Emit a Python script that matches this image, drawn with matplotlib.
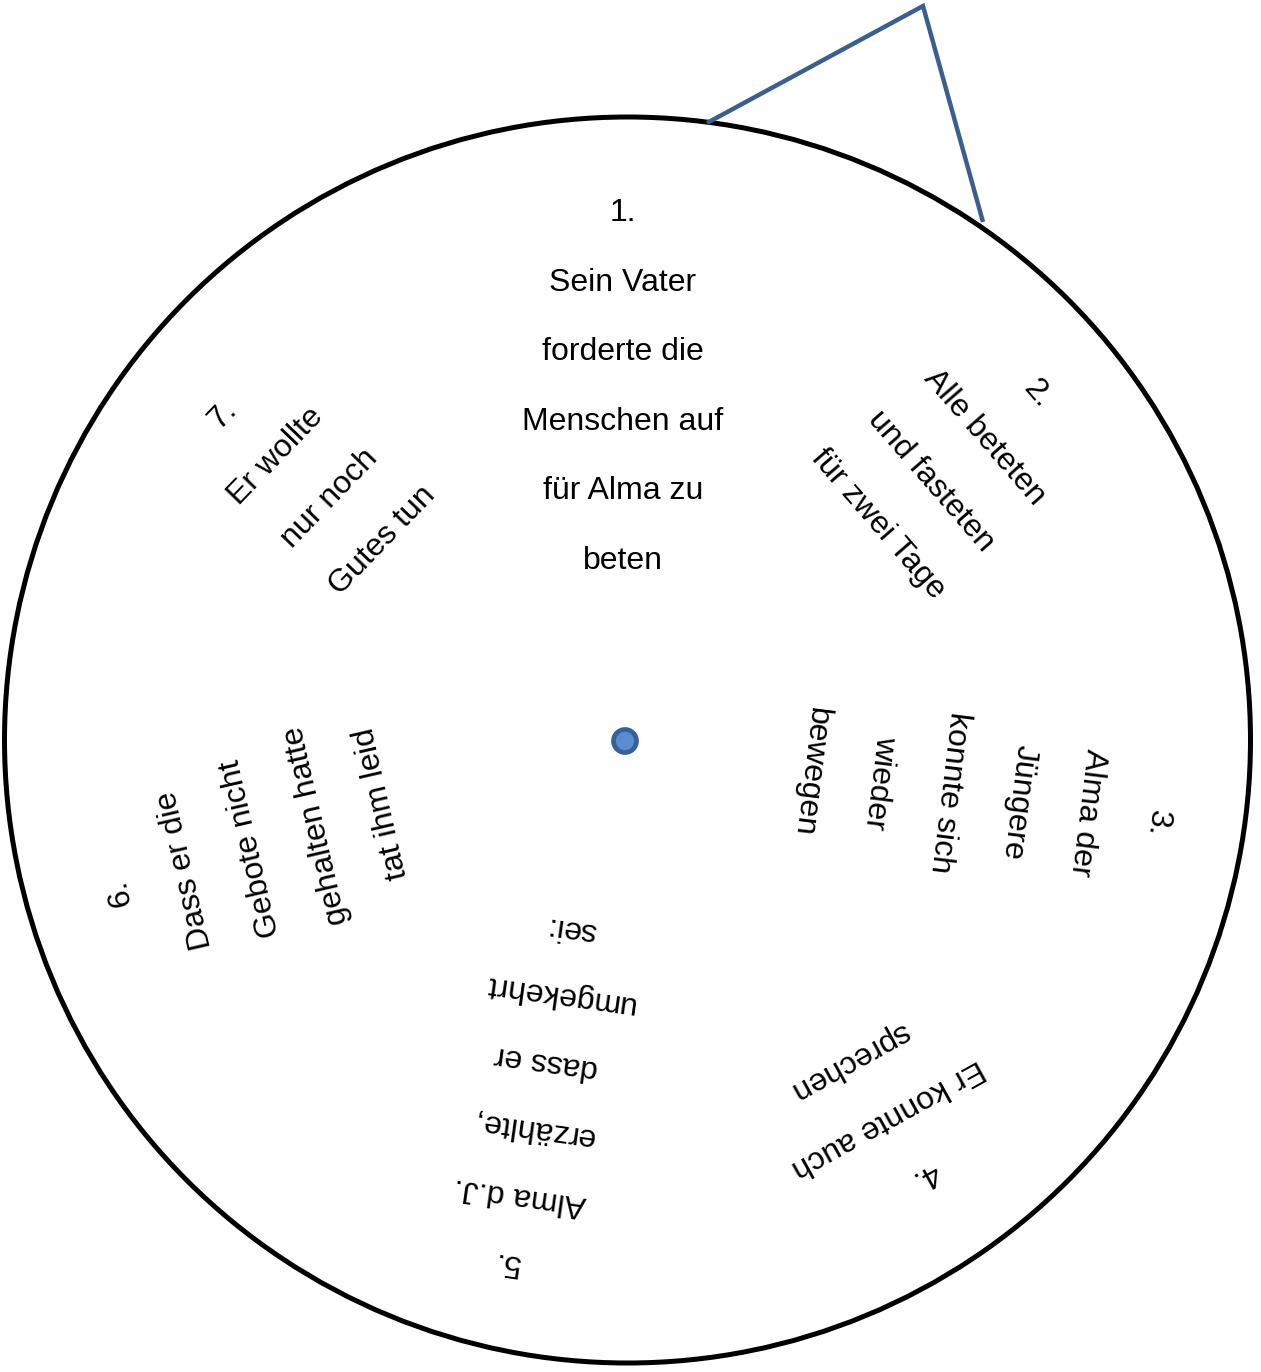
import numpy as np
import matplotlib.pyplot as plt
from matplotlib.patches import Circle

plt.rcParams['font.family'] = ['Liberation Sans', 'DejaVu Sans']

W, H = 1261, 1372

# ----------------------------
# Text of the wheel, one list per segment
# ----------------------------
seg1 = ["1.", "Sein Vater", "forderte die", "Menschen auf", "für Alma zu", "beten"]
seg2 = ["2.", "Alle beteten", "und fasteten", "für zwei Tage"]
seg3 = ["3.", "Alma der", "Jüngere", "konnte sich", "wieder", "bewegen"]
seg4 = ["4.", "Er konnte auch", "sprechen"]
seg5 = ["5.", "Alma d.J.", "erzählte,", "dass er", "umgekehrt", "sei:"]
seg6 = ["6.", "Dass er die", "Gebote nicht", "gehalten hatte", "tat ihm leid"]
seg7 = ["7.", "Er wollte", "nur noch", "Gutes tun"]

segments = [seg1, seg2, seg3, seg4, seg5, seg6, seg7]

# layout per segment: rotation, first line centre (px), step to next line (px)
rotations = [0, -49, -97, -151, 172, 103, 46]
anchors = [(623, 213), (1037, 394), (1157, 823), (925, 1175),
           (507, 1262), (120, 893), (223, 415)]
steps = [(0, 69.6), (-53, 43.5), (-69.4, -10.2), (-37.5, -57),
         (13, -66.8), (65.5, -22.5), (53.3, 41.7)]

fig = plt.figure(figsize=(W / 100, H / 100), dpi=100)
ax = fig.add_axes([0, 0, 1, 1])
ax.set_xlim(0, W)
ax.set_ylim(H, 0)
ax.set_aspect('equal')
ax.axis('off')

# outer circle
ax.add_patch(Circle((627.5, 740), 623, fill=False, edgecolor='black', lw=3.6))

# pointer triangle on top
ax.plot([707, 923, 983], [123, 6, 222], color='#3A5F8E', lw=3.2,
        solid_joinstyle='miter', solid_capstyle='butt')

# centre pin
ax.add_patch(Circle((625, 741), 11.5, facecolor='#5B8BD0', edgecolor='#36629A', lw=3.4))

for lines, rot, (x0, y0), (dx, dy) in zip(segments, rotations, anchors, steps):
    for k, line in enumerate(lines):
        ax.text(x0 + k * dx, y0 + k * dy, line, rotation=rot,
                rotation_mode='anchor', ha='center', va='center',
                fontsize=23, color='black')

fig.savefig("out.png", dpi=100)
